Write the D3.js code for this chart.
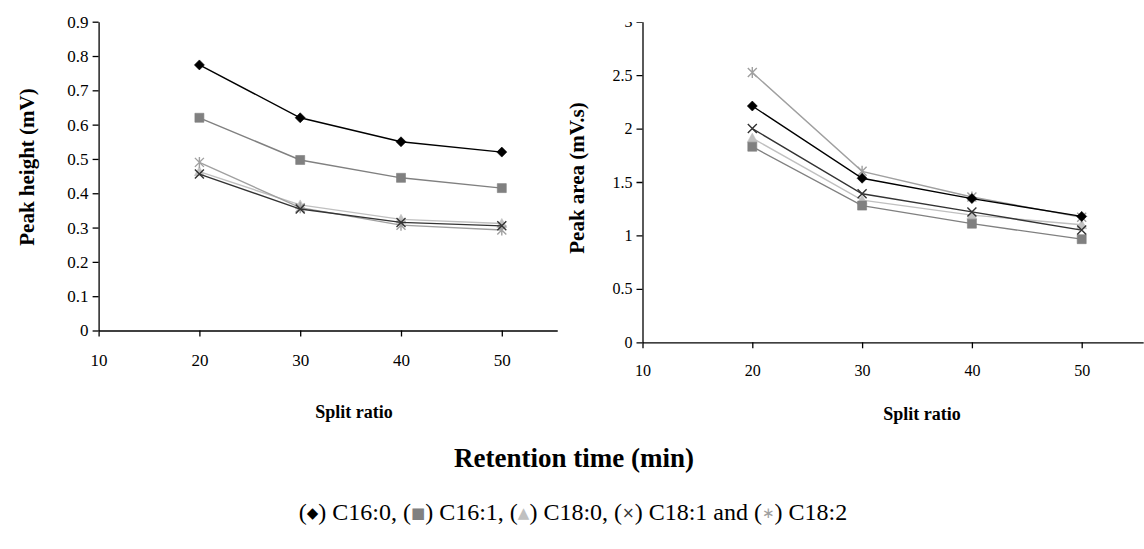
<!DOCTYPE html>
<html>
<head>
<meta charset="utf-8">
<script src="https://cdn.jsdelivr.net/npm/d3@7"></script>
<style>
  body { margin: 0; background: #fff; }
  svg { display: block; }
  svg text { font-family: 'Liberation Serif', 'Times New Roman', 'DejaVu Serif', serif; }
</style>
</head>
<body>
<svg id="chart" width="1144" height="549"></svg>
<script>
// --- data ---
const splitRatio = [20, 30, 40, 50];
const xTicks = [10, 20, 30, 40, 50];
const seriesNames = ["C16:0", "C16:1", "C18:0", "C18:1", "C18:2"];

const heightC160 = [0.774, 0.620, 0.550, 0.520];
const heightC161 = [0.620, 0.497, 0.445, 0.415];
const heightC180 = [0.463, 0.366, 0.324, 0.312];
const heightC181 = [0.456, 0.354, 0.315, 0.305];
const heightC182 = [0.490, 0.358, 0.307, 0.293];

const areaC160 = [2.211, 1.535, 1.345, 1.178];
const areaC161 = [1.830, 1.279, 1.110, 0.965];
const areaC180 = [1.910, 1.330, 1.190, 1.100];
const areaC181 = [2.000, 1.390, 1.220, 1.050];
const areaC182 = [2.524, 1.600, 1.360, 1.170];

const heightTicks = [0, 0.1, 0.2, 0.3, 0.4, 0.5, 0.6, 0.7, 0.8, 0.9];
const areaTicks = [0, 0.5, 1, 1.5, 2, 2.5, 3];

// style per series
const styles = {
  "C16:0": { color: "#000000", marker: "diamond" },
  "C16:1": { color: "#808080", marker: "square" },
  "C18:0": { color: "#c0c0c0", marker: "triangle" },
  "C18:1": { color: "#333333", marker: "x" },
  "C18:2": { color: "#a0a0a0", marker: "star" }
};
const drawOrder = ["C18:0", "C18:2", "C16:1", "C18:1", "C16:0"];

const svg = d3.select("#chart");
const font = "'Liberation Serif', 'Times New Roman', 'DejaVu Serif', serif";

function markerPath(type) {
  const p = d3.path();
  if (type === "diamond") {
    p.moveTo(0, -5); p.lineTo(5, 0); p.lineTo(0, 5); p.lineTo(-5, 0); p.closePath();
  } else if (type === "square") {
    p.rect(-4.5, -4.5, 9, 9);
  } else if (type === "triangle") {
    p.moveTo(0, -5); p.lineTo(5, 4); p.lineTo(-5, 4); p.closePath();
  } else if (type === "x") {
    p.moveTo(-4.5, -4.5); p.lineTo(4.5, 4.5); p.moveTo(4.5, -4.5); p.lineTo(-4.5, 4.5);
  } else {
    p.moveTo(-4.5, -4.5); p.lineTo(4.5, 4.5); p.moveTo(4.5, -4.5); p.lineTo(-4.5, 4.5);
    p.moveTo(0, -5.5); p.lineTo(0, 5.5);
  }
  return p.toString();
}

function drawPanel(cfg) {
  const g = svg.append("g");
  if (cfg.clipTop) {
    svg.append("clipPath").attr("id", cfg.id + "clip")
      .append("rect").attr("x", cfg.x0 - 80).attr("y", cfg.clipTop)
      .attr("width", 700).attr("height", 549);
    g.attr("clip-path", "url(#" + cfg.id + "clip)");
  }
  const x = d3.scaleLinear().domain(cfg.xDomain).range([cfg.x0, cfg.x1]);
  const y = d3.scaleLinear().domain(cfg.yDomain).range([cfg.y0, cfg.y1]);

  const xAxis = g.append("g").attr("transform", `translate(0,${cfg.y0})`)
    .call(d3.axisBottom(x).tickValues(xTicks).tickSize(6).tickSizeOuter(0).tickPadding(cfg.xPad));
  const yAxis = g.append("g").attr("transform", `translate(${cfg.x0},0)`)
    .call(d3.axisLeft(y).tickValues(cfg.yTicks).tickSize(6).tickSizeOuter(0).tickPadding(4)
      .tickFormat(d => String(+d.toFixed(2))));
  [xAxis, yAxis].forEach(a => {
    a.attr("font-family", null);
    a.selectAll("path.domain").attr("stroke", "#000").attr("stroke-width", 1.3);
    a.selectAll(".tick line").attr("stroke", "#000").attr("stroke-width", 1.3);
    a.selectAll("text").attr("fill", "#000").style("font-family", font).style("font-size", cfg.tickSize + "px");
  });

  const line = d3.line().x((d, i) => x(splitRatio[i])).y(d => y(d));
  drawOrder.forEach(name => {
    const vals = cfg.data[name];
    const st = styles[name];
    g.append("path").attr("d", line(vals)).attr("fill", "none")
      .attr("stroke", st.color).attr("stroke-width", 1.4);
    const stroked = st.marker === "x" || st.marker === "star";
    g.selectAll(null).data(vals).enter().append("path")
      .attr("transform", (d, i) => `translate(${x(splitRatio[i])},${y(d)})`)
      .attr("d", markerPath(st.marker))
      .attr("fill", stroked ? "none" : st.color)
      .attr("stroke", st.color)
      .attr("stroke-width", stroked ? 1.4 : 0.6);
  });

  svg.append("text")
    .attr("transform", `translate(${cfg.titleX},${cfg.titleY}) rotate(-90)`)
    .attr("text-anchor", "middle").attr("dominant-baseline", "central")
    .style("font-weight", "bold").style("font-size", "21px")
    .text(cfg.yTitle);
  svg.append("text")
    .attr("x", cfg.splitX).attr("y", cfg.splitY)
    .attr("text-anchor", "middle").attr("dominant-baseline", "central")
    .style("font-weight", "bold").style("font-size", "18px")
    .text("Split ratio");
}

const heightData = { "C16:0": heightC160, "C16:1": heightC161, "C18:0": heightC180, "C18:1": heightC181, "C18:2": heightC182 };
const areaData = { "C16:0": areaC160, "C16:1": areaC161, "C18:0": areaC180, "C18:1": areaC181, "C18:2": areaC182 };

drawPanel({
  id: "left", data: heightData,
  xDomain: [10, 55.5], x0: 98.6, x1: 98.6 + 4.55 * 100.8,
  yDomain: [0, 0.9], y0: 330.5, y1: 21.7, yTicks: heightTicks,
  tickSize: 17, xPad: 17,
  yTitle: "Peak height (mV)", titleX: 27, titleY: 167,
  splitX: 354, splitY: 412
});
drawPanel({
  id: "right", data: areaData, clipTop: 22,
  xDomain: [10, 55.6], x0: 642.5, x1: 642.5 + 4.56 * 109.8,
  yDomain: [0, 3], y0: 342.3, y1: 21.7, yTicks: areaTicks,
  tickSize: 16, xPad: 16,
  yTitle: "Peak area (mV.s)", titleX: 577, titleY: 178,
  splitX: 922, splitY: 414
});

svg.append("text")
  .attr("x", 574).attr("y", 458)
  .attr("text-anchor", "middle").attr("dominant-baseline", "central")
  .style("font-weight", "bold").style("font-size", "27px")
  .text("Retention time (min)");

// legend line
const legendSymbols = ["\u25C6", "\u25A0", "\u25B2", "\u00D7", "\u2217"];
const legendText = svg.append("text")
  .attr("x", 573).attr("y", 520)
  .attr("text-anchor", "middle")
  .style("font-size", "24px").attr("fill", "#000");
seriesNames.forEach((name, i) => {
  const sep = i === 0 ? "" : (i === seriesNames.length - 1 ? " and " : ", ");
  legendText.append("tspan").text(sep + "(");
  legendText.append("tspan").attr("fill", styles[name].color)
    .style("font-family", "'DejaVu Sans', sans-serif").style("font-size", "15px")
    .attr("dy", -2).text(legendSymbols[i]);
  legendText.append("tspan").attr("dy", 2).text(") " + name);
});
</script>
</body>
</html>
